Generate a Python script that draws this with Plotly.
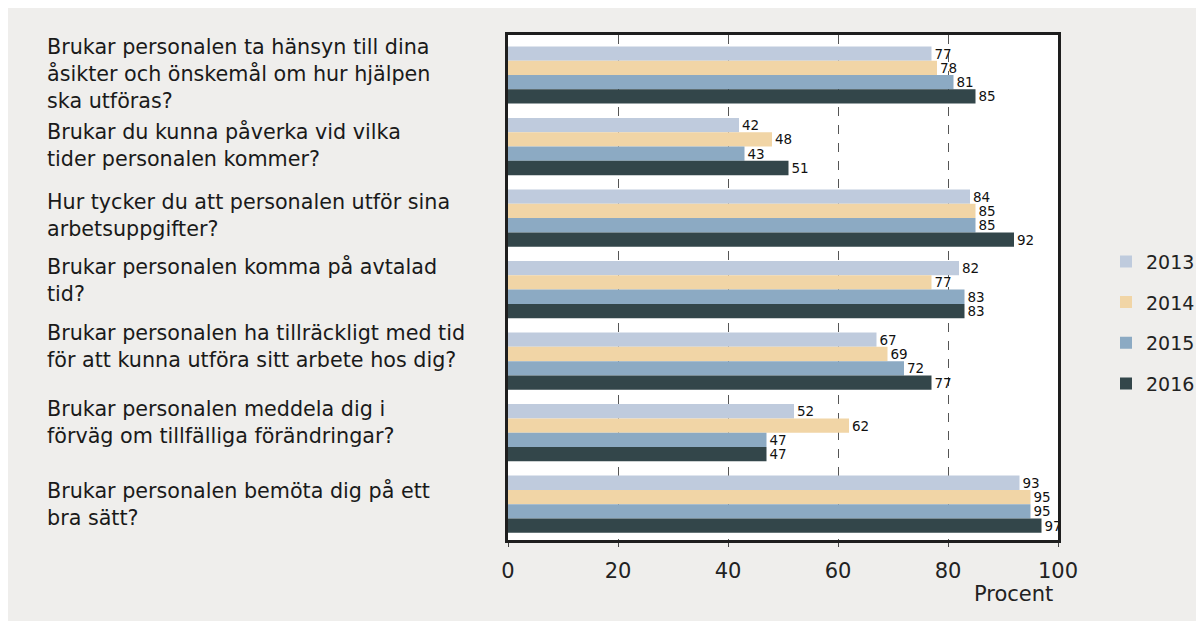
import plotly.graph_objects as go

questions = [
    "Brukar personalen ta hänsyn till dina<br>åsikter och önskemål om hur hjälpen<br>ska utföras?",
    "Brukar du kunna påverka vid vilka<br>tider personalen kommer?",
    "Hur tycker du att personalen utför sina<br>arbetsuppgifter?",
    "Brukar personalen komma på avtalad<br>tid?",
    "Brukar personalen ha tillräckligt med tid<br>för att kunna utföra sitt arbete hos dig?",
    "Brukar personalen meddela dig i<br>förväg om tillfälliga förändringar?",
    "Brukar personalen bemöta dig på ett<br>bra sätt?",
]
cat_ids = ["q1", "q2", "q3", "q4", "q5", "q6", "q7"]

years = ["2013", "2014", "2015", "2016"]
v2013 = [77, 42, 84, 82, 67, 52, 93]
v2014 = [78, 48, 85, 77, 69, 62, 95]
v2015 = [81, 43, 85, 83, 72, 47, 95]
v2016 = [85, 51, 92, 83, 77, 47, 97]
series = [v2013, v2014, v2015, v2016]
colors = ["#bfcbdd", "#f1d5a6", "#8caac3", "#33464a"]

x_ticks = [0, 20, 40, 60, 80, 100]

FONT = "DejaVu Sans"
# vertical nudges of the question labels (px), styling only
label_shift = [1, 2, 3, 10, 15, 10, 0]

fig = go.Figure()
for yr, vals, col in zip(years, series, colors):
    fig.add_trace(go.Bar(
        y=cat_ids, x=vals, name=yr, orientation="h",
        marker=dict(color=col, line=dict(width=0)),
        text=[str(v) for v in vals], textposition="outside",
        textfont=dict(family=FONT, size=13.5, color="#111"),
        constraintext="none",
        cliponaxis=True, legendgroup=yr,
    ))

W, H = 1196, 613
L, R, T, B = 500, 146, 27, 81
pw = W - L - R
ph = H - T - B

fig.update_layout(
    width=W, height=H,
    paper_bgcolor="#efeeec", plot_bgcolor="#ffffff",
    margin=dict(l=L, r=R, t=T, b=B, autoexpand=False),
    barmode="group", bargap=0.2, bargroupgap=0,
    font=dict(family=FONT, color="#111"),
    showlegend=True,
    legend=dict(x=(1098 - L) / pw, y=0.589, xanchor="left", yanchor="top",
                font=dict(size=19, family=FONT, color="#222"),
                bgcolor="rgba(0,0,0,0)", traceorder="grouped",
                tracegroupgap=13, itemwidth=30),
)
fig.update_xaxes(
    range=[0, 100], tickvals=x_ticks, ticktext=[str(t) for t in x_ticks],
    showgrid=True, gridcolor="#555", griddash="dash", gridwidth=1,
    showline=True, linecolor="#1e1e1e", linewidth=3, mirror=True,
    ticks="outside", ticklen=4, tickcolor="#444",
    tickfont=dict(size=21, family=FONT, color="#222"),
    ticklabelstandoff=6, zeroline=False,
)
fig.update_yaxes(
    categoryorder="array", categoryarray=cat_ids, autorange="reversed",
    showticklabels=False, showgrid=False,
    showline=True, linecolor="#1e1e1e", linewidth=3, mirror=True, ticks="",
)

for cid, q, sh in zip(cat_ids, questions, label_shift):
    fig.add_annotation(
        x=(37 - L) / pw, xref="paper", y=cid, yref="y", yshift=sh,
        text=q, showarrow=False, xanchor="left", yanchor="middle", align="left",
        font=dict(size=20.7, family=FONT, color="#1a1a1a"),
    )

fig.add_annotation(
    x=(1047 - L) / pw, xref="paper", y=-(586 - (H - B)) / ph, yref="paper",
    text="Procent", showarrow=False,
    xanchor="right", yanchor="middle", font=dict(size=21, family=FONT, color="#222"),
)

fig.write_html("out.html")
